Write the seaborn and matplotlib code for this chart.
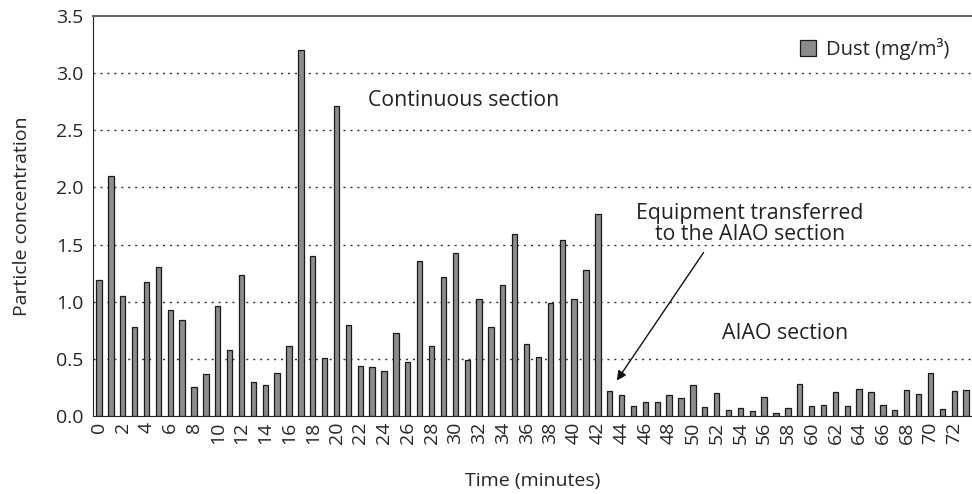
import numpy as np
import pandas as pd
import matplotlib
matplotlib.use('Agg')
import matplotlib.pyplot as plt
from matplotlib.ticker import MultipleLocator, FormatStrFormatter
import seaborn as sns

# dust readings, one per minute
minutes = list(range(74))
dust = [1.19, 2.10, 1.05, 0.78, 1.17, 1.30, 0.93, 0.84, 0.25, 0.37,
        0.96, 0.58, 1.23, 0.30, 0.27, 0.38, 0.61, 3.20, 1.40, 0.51,
        2.71, 0.80, 0.44, 0.43, 0.39, 0.73, 0.47, 1.36, 0.61, 1.22,
        1.43, 0.49, 1.02, 0.78, 1.15, 1.59, 0.63, 0.52, 0.99, 1.54,
        1.02, 1.28, 1.77, 0.22, 0.18, 0.09, 0.12, 0.12, 0.18, 0.16,
        0.27, 0.08, 0.20, 0.05, 0.07, 0.04, 0.17, 0.03, 0.07, 0.28,
        0.09, 0.10, 0.21, 0.09, 0.24, 0.21, 0.10, 0.05, 0.23, 0.19,
        0.38, 0.06, 0.22, 0.23]
tick_labels = [str(m) for m in minutes[::2]]

df = pd.DataFrame({'minute': [str(m) for m in minutes], 'dust': dust})

sns.set_style('white')
plt.rcParams['font.family'] = ['Open Sans', 'DejaVu Sans']

fig = plt.figure(figsize=(9.72, 4.94), dpi=100)
ax = fig.add_axes([0.0957, 0.158, 0.9043, 0.8096])

sns.barplot(data=df, x='minute', y='dust', color='#8c8c8c', edgecolor='#1a1a1a',
            linewidth=0.9, width=0.45, saturation=1, ax=ax, label='Dust (mg/m³)')

ax.set_xlim(-0.5, len(minutes) - 0.5)
ax.set_ylim(0, 3.5)
ax.yaxis.set_major_locator(MultipleLocator(0.5))
ax.yaxis.set_major_formatter(FormatStrFormatter('%.1f'))

ax.set_xticks(range(0, len(minutes), 2))
ax.set_xticklabels(tick_labels, rotation=90, fontsize=14)
ax.set_xticks(np.arange(-0.5, len(minutes), 1), minor=True)
ax.tick_params(axis='x', which='major', length=0, pad=4)
ax.tick_params(axis='x', which='minor', direction='in', length=3, width=1, color='#222')
ax.tick_params(axis='y', direction='out', length=4, width=1, color='#222', labelsize=14, pad=3)

for y in np.arange(0.5, 3.5, 0.5):
    ax.axhline(y, color='#333', linestyle=(0, (1.5, 3.5)), linewidth=1, zorder=0)

ax.spines['left'].set_color('#222')
ax.spines['bottom'].set_color('#222')
ax.spines['top'].set_color('#666')
ax.spines['top'].set_linewidth(1.5)
ax.spines['right'].set_visible(False)

ax.set_xlabel('Time (minutes)', fontsize=14, labelpad=20)
ax.set_ylabel('Particle concentration', fontsize=14, labelpad=18)

ax.text(30.7, 2.76, 'Continuous section', fontsize=15.3, ha='center', va='center', color='#222')
ax.text(57.8, 0.72, 'AIAO section', fontsize=15.3, ha='center', va='center', color='#222')
ax.text(54.8, 1.68, 'Equipment transferred\nto the AIAO section', fontsize=15.3,
        ha='center', va='center', color='#222', linespacing=1.0)
ax.annotate('', xy=(43.6, 0.31), xytext=(50.9, 1.43),
            arrowprops=dict(arrowstyle='-|>', color='#111', lw=1, shrinkA=0, shrinkB=0,
                            mutation_scale=14))

ax.legend(loc='upper right', frameon=False, fontsize=14.5, handlelength=0.8, handleheight=0.8,
          bbox_to_anchor=(0.995, 0.99), handletextpad=0.5)

fig.savefig('out.png', dpi=100)
